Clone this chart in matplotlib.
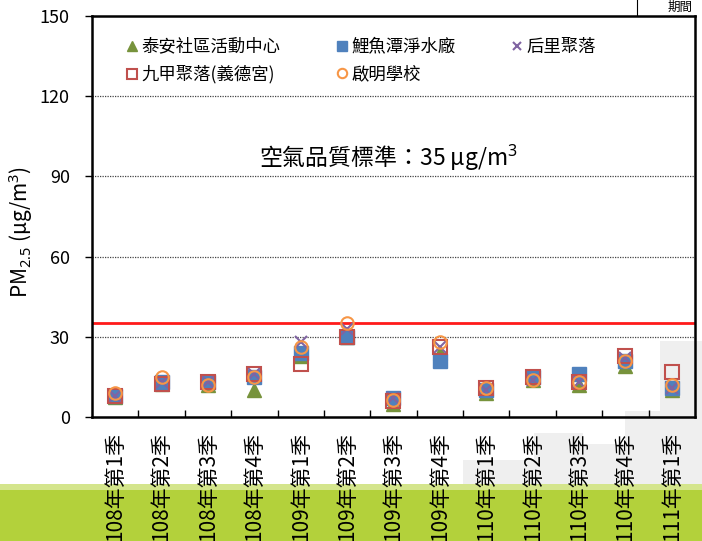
import matplotlib
matplotlib.use("Agg")
import matplotlib.pyplot as plt
from matplotlib.patches import Rectangle
from matplotlib.lines import Line2D
import numpy as np

plt.rcParams['font.family'] = ['Noto Sans CJK TC', 'DejaVu Sans']
plt.rcParams['mathtext.fontset'] = 'custom'
plt.rcParams['mathtext.rm'] = 'Noto Sans'
plt.rcParams['mathtext.it'] = 'Noto Sans:italic'

quarters = ["108年第1季", "108年第2季", "108年第3季", "108年第4季",
            "109年第1季", "109年第2季", "109年第3季", "109年第4季",
            "110年第1季", "110年第2季", "110年第3季", "110年第4季",
            "111年第1季"]

taian = [7.5, 12.5, 12, 10, 23, 30, 5, 24, 9, 14, 12, 19, 10]
liyutan = [8, 13, 13, 15, 24, 30, 7, 21, 10, 15, 16, 21, 11]
houli = [8, 13, 13, 16, 28, 33, 7, 26, 10, 14, 13, 22, 11]
jiujia = [8, 12.5, 13, 16, 20, 30, 6, 26, 11, 15, 13, 23, 17]
qiming = [9, 15, 12, 15, 26, 35, 6.5, 28, 11, 14, 13, 21, 12]

standard = 35

fig = plt.figure(figsize=(7.02, 5.41), dpi=100)
fig.patch.set_facecolor('white')

# 背景: 淡灰色建築剪影與底部綠色帶
buildings = [(0.66, 0.10, 0.10, 0.05), (0.76, 0.10, 0.07, 0.10),
             (0.83, 0.10, 0.06, 0.08), (0.89, 0.10, 0.05, 0.14),
             (0.94, 0.10, 0.06, 0.27)]
for bx, by, bw, bh in buildings:
    fig.patches.append(Rectangle((bx, by), bw, bh, transform=fig.transFigure,
                                 facecolor='#efefef', edgecolor='none', zorder=-10))
fig.patches.append(Rectangle((0, 0), 1, 0.103, transform=fig.transFigure,
                             facecolor='#b3d13b', edgecolor='none', zorder=-9))
fig.patches.append(Rectangle((0, 0.094), 1, 0.012, transform=fig.transFigure,
                             facecolor='#d4e58c', edgecolor='none', zorder=-8))

# 右上角框線與文字
fig.lines.append(Line2D([637 / 702, 637 / 702], [1 - 15 / 541, 1.0],
                        transform=fig.transFigure, color='black', lw=0.8))
fig.text(680 / 702, 0.999, "期間", ha='center', va='top', fontsize=9)

ax = fig.add_axes([92 / 702, 1 - 417 / 541, 603 / 702, 401 / 541])
ax.patch.set_alpha(0)

x = np.arange(len(quarters))

ax.plot(x, taian, linestyle='none', marker='^', markersize=10,
        color='#77933c', label='泰安社區活動中心', zorder=3)
ax.plot(x, liyutan, linestyle='none', marker='s', markersize=10,
        color='#4f81bd', label='鯉魚潭淨水廠', zorder=4)
ax.plot(x, houli, linestyle='none', marker='x', markersize=8, mew=1.5,
        color='#8064a2', label='后里聚落', zorder=5)
ax.plot(x, jiujia, linestyle='none', marker='s', markersize=10, mew=1.5,
        markerfacecolor='none', markeredgecolor='#c0504d',
        label='九甲聚落(義德宮)', zorder=6)
ax.plot(x, qiming, linestyle='none', marker='o', markersize=9, mew=1.5,
        markerfacecolor='none', markeredgecolor='#f79646',
        label='啟明學校', zorder=7)

ax.axhline(standard, color='#ff1a1a', lw=2, zorder=2)
ax.text(5.9, 97, "空氣品質標準：%d μg/m$^3$" % standard,
        ha='center', va='center', fontsize=16.5)

for gy in [30, 60, 90, 120]:
    ax.axhline(gy, color='#444444', lw=0.9, linestyle=(0, (1, 1)), zorder=1)

ax.set_xlim(-0.5, len(quarters) - 0.5)
ax.set_ylim(0, 150)
ax.set_yticks([0, 30, 60, 90, 120, 150])
ax.tick_params(axis='y', direction='out', length=5, labelsize=13, width=1, pad=11)

ax.set_xticks(x[:-1] + 0.5)
ax.set_xticklabels([])
ax.tick_params(axis='x', which='major', direction='in', length=5, width=1)
ax.set_xticks(x, minor=True)
ax.set_xticklabels(quarters, minor=True, rotation=90, fontsize=15)
ax.tick_params(axis='x', which='minor', length=0, pad=11)

for s in ax.spines.values():
    s.set_linewidth(1.8)

ax.set_ylabel("PM$_{2.5}$ (μg/m$^3$)", fontsize=15)
ax.yaxis.set_label_coords(-0.094, 0.46)

h, l = ax.get_legend_handles_labels()
order = [0, 3, 1, 4, 2]
ax.legend([h[i] for i in order], [l[i] for i in order], ncol=3,
          loc='upper left', bbox_to_anchor=(0.03, 0.985), frameon=False,
          fontsize=12.5, markerscale=0.75, handlelength=0.7, handletextpad=0.2,
          columnspacing=3.2, labelspacing=0.55)

fig.savefig("out.png", dpi=100)
